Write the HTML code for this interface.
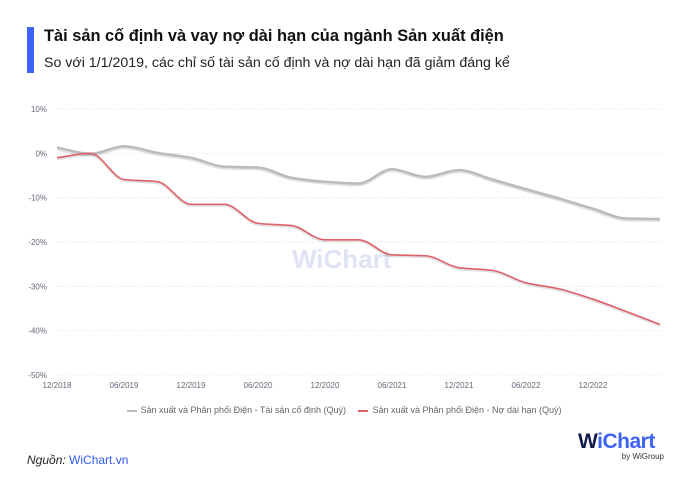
<!DOCTYPE html>
<html><head><meta charset="utf-8">
<style>
body{margin:0;width:688px;height:500px;background:#fff;font-family:"Liberation Sans","Noto Sans CJK SC",sans-serif;overflow:hidden;position:relative}
.abs{position:absolute}
</style></head><body>
<div class="abs" style="left:27px;top:27px;width:7px;height:46px;background:#3d63f5"></div>
<div class="abs" style="left:44px;top:27px;font-size:16.4px;font-weight:bold;color:#111">Tài sản cố định và vay nợ dài hạn của ngành Sản xuất điện</div>
<div class="abs" style="left:44px;top:55px;font-size:14.2px;color:#222">So với 1/1/2019, các chỉ số tài sản cố định và nợ dài hạn đã giảm đáng kể</div>
<svg class="abs" style="left:0;top:0" width="688" height="500">
<g id="grid"></g><g id="wm"></g><g id="lines"></g><g id="ticks"></g>
</svg>
<div class="abs" style="left:0;top:405px;width:688px;text-align:center;font-size:9px;color:#666;white-space:nowrap">
<span><span style="display:inline-block;width:10px;height:2px;background:#bbb;vertical-align:middle;margin-right:4px"></span>Sản xuất và Phân phối Điện - Tài sản cố định (Quý)</span>
<span style="margin-left:10px"><span style="display:inline-block;width:10px;height:2px;background:#e0606a;vertical-align:middle;margin-right:4px"></span>Sản xuất và Phân phối Điện - Nợ dài hạn (Quý)</span>
</div>
<div class="abs" style="left:27px;top:453px;font-size:12px;font-style:italic;color:#222">Nguồn: <span style="color:#2f5bf0;font-style:normal">WiChart.vn</span></div>
<div class="abs" style="left:578px;top:430px;width:86px">
<div style="font-size:21px;font-weight:bold;color:#3d63f5;letter-spacing:-0.5px"><span style="color:#141b4d">W</span>iChart</div>
<div style="font-size:8px;color:#333;text-align:right;margin-top:-2px">by WiGroup</div>
</div>
<script>
const xLabels=["12/2018","06/2019","12/2019","06/2020","12/2020","06/2021","12/2021","06/2022","12/2022"];
const yTicks=[10,0,-10,-20,-30,-40,-50];
const fixedAssets=[1.3,-0.1,1.6,0.1,-1.0,-3.0,-3.2,-5.5,-6.4,-6.8,-3.6,-5.3,-3.8,-5.9,-8.1,-10.2,-12.5,-14.7,-14.8];
const longDebt=[-1.0,0,-5.9,-6.4,-11.5,-11.5,-15.8,-16.3,-19.5,-19.5,-22.9,-23.1,-25.8,-26.4,-29.2,-30.6,-32.9,-35.7,-38.6];
const NS="http://www.w3.org/2000/svg";
const x0=57,x1=660,y10=109,ym50=375;
const xQ=i=>x0+i*(x1-x0)/18;
const yV=v=>y10+(10-v)*(ym50-y10)/60;
function mk(t,a,p){const e=document.createElementNS(NS,t);for(const k in a)e.setAttribute(k,a[k]);p.appendChild(e);return e;}
const grid=document.getElementById('grid'),ticks=document.getElementById('ticks');
yTicks.forEach(v=>{
 const l=mk('line',{x1:x0,x2:662,y1:yV(v),y2:yV(v),stroke:'#ddd','stroke-dasharray':'1 2'},grid);
 
 
 const t=mk('text',{x:47,y:yV(v)+3,'text-anchor':'end','font-size':8,fill:'#667'},ticks);
 t.textContent=v+'%';
 
 
});
xLabels.forEach((s,i)=>{
 const t=mk('text',{x:xQ(i*2),y:388,'text-anchor':'middle','font-size':8,fill:'#667'},ticks);
 t.textContent=s;
 
 
});
const wm=mk('text',{x:292,y:268,'font-size':26,'font-weight':'bold',fill:'#dfe3f6'},document.getElementById('wm'));
wm.textContent='WiChart';


function monotone(pts){
 const n=pts.length,d=[],m=[];
 for(let i=0;i<n-1;i++)d.push((pts[i+1][1]-pts[i][1])/(pts[i+1][0]-pts[i][0]));
 for(let i=0;i<n;i++){
  if(i==0)m.push(d[0]);else if(i==n-1)m.push(d[n-2]);
  else m.push(d[i-1]*d[i]<=0?0:(2*d[i-1]*d[i])/(d[i-1]+d[i]));
 }
 let p='M'+pts[0][0]+','+pts[0][1];
 for(let i=0;i<n-1;i++){const h=(pts[i+1][0]-pts[i][0])/3;
  p+=' C'+(pts[i][0]+h)+','+(pts[i][1]+m[i]*h)+' '+(pts[i+1][0]-h)+','+(pts[i+1][1]-m[i+1]*h)+' '+pts[i+1][0]+','+pts[i+1][1];}
 return p;
}
const lines=document.getElementById('lines');
[[fixedAssets,'#bbb','fixed-assets-line',2.5],[longDebt,'#e0606a','long-term-debt-line',1.6]].forEach(([arr,c,n,w])=>{
 const d=monotone(arr.map((v,i)=>[xQ(i),yV(v)]));
 mk('path',{d:d,fill:'none',stroke:'rgba(0,0,0,0.12)','stroke-width':w+1,transform:'translate(0,1.2)'},lines);
 const p=mk('path',{d:d,fill:'none',stroke:c,'stroke-width':w},lines);
 
 
});
</script>
</body></html>
